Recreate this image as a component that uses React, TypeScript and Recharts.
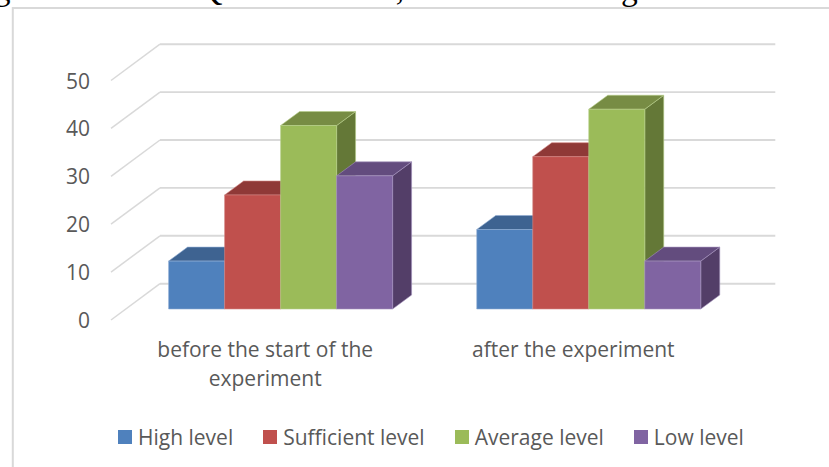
import React from "react";
import { BarChart, Bar, XAxis, YAxis, CartesianGrid, Legend } from "recharts";

// Survey results: share of respondents per level, before and after the experiment.
const categories = ["before the start of the experiment", "after the experiment"];
const categoryLines = [["before the start of the", "experiment"], ["after the experiment"]];
const highLevel = [10, 16.6];
const sufficientLevel = [23.8, 31.8];
const averageLevel = [38.3, 41.7];
const lowLevel = [27.8, 10];
const yTicks = [0, 10, 20, 30, 40, 50];

const seriesDefs = [
  { key: "high", name: "High level", values: highLevel, front: "#4F81BD", top: "#3E6391", side: "#385D8A", edge: "#8FADD3" },
  { key: "sufficient", name: "Sufficient level", values: sufficientLevel, front: "#C0504D", top: "#8F3937", side: "#7F302E", edge: "#D38785" },
  { key: "average", name: "Average level", values: averageLevel, front: "#9BBB59", top: "#778C44", side: "#647837", edge: "#B7CE8A" },
  { key: "low", name: "Low level", values: lowLevel, front: "#8064A2", top: "#634C7E", side: "#533E68", edge: "#A592BE" },
];

const rows = categories.map((name, i) => {
  const row: Record<string, string | number> = { name };
  seriesDefs.forEach((s) => {
    row[s.key] = s.values[i];
  });
  return row;
});

const FONT = "'Open Sans', sans-serif";
const TEXT = "#595959";
const GRID = "#D9D9D9";

// Box depth of the bars and of the floor/wall perspective.
const BAR_DX = 19;
const BAR_DY = 14;

const Box = (props: any) => {
  const { x, y, width, height, front, top, side, edge } = props;
  const r = x + width;
  const b = y + height;
  return (
    <g stroke={edge} strokeWidth={0.6} strokeLinejoin="round">
      <polygon fill={side} points={`${r},${y} ${r + BAR_DX},${y - BAR_DY} ${r + BAR_DX},${b - BAR_DY} ${r},${b}`} />
      <polygon fill={top} points={`${x},${y} ${x + BAR_DX},${y - BAR_DY} ${r + BAR_DX},${y - BAR_DY} ${r},${y}`} />
      <rect x={x} y={y} width={width} height={height} fill={front} />
    </g>
  );
};

// Each horizontal grid value becomes a back-wall line plus a diagonal floor edge.
const gridLine = (props: any) => {
  const { x1, x2, y1, key } = props;
  const backY = y1 - 25.3;
  const backLeft = x1 + 33.4;
  return (
    <g key={key} fill="none" stroke={GRID}>
      <line x1={backLeft} y1={backY} x2={x2 + 32.4} y2={backY} strokeWidth={1.9} />
      <line x1={x1 - 15.6} y1={y1 + 11} x2={backLeft} y2={backY} strokeWidth={1.5} />
    </g>
  );
};

const YTick = (props: any) => (
  <text x={90} y={props.y + 11} textAnchor="end" dominantBaseline="central" fontFamily={FONT} fontSize={21} fill={TEXT}>
    {props.payload.value}
  </text>
);

const XTick = (props: any) => {
  const lines = categoryLines[props.index] ?? [props.payload.value];
  return (
    <text textAnchor="middle" fontFamily={FONT} fontSize={21} fill={TEXT}>
      {lines.map((line: string, i: number) => (
        <tspan key={line} x={props.x - 15.5} y={357 + i * 29}>
          {line}
        </tspan>
      ))}
    </text>
  );
};

const LegendRow = ({ payload }: any) => (
  <div style={{ display: "flex", paddingLeft: 118, fontFamily: FONT, fontSize: 21, color: TEXT, lineHeight: "30px" }}>
    {(payload ?? []).map((item: any) => (
      <div key={item.value} style={{ display: "flex", alignItems: "center", marginRight: 30, whiteSpace: "nowrap" }}>
        <span style={{ width: 14, height: 14, background: item.color, marginRight: 6, display: "inline-block" }} />
        {item.value}
      </div>
    ))}
  </div>
);

export default function App() {
  return (
    <div style={{ position: "absolute", left: 0, top: 0, width: 829, height: 467, background: "#fff", overflow: "hidden" }}>
      <BarChart
        width={829}
        height={467}
        data={rows}
        margin={{ top: 69.5, right: 86.1, bottom: 98, left: 66.6 }}
        barSize={56}
        barGap={0}
      >
        {/* Sentence of the surrounding page running off the top edge, and the chart frame */}
        <text x={-62} y={0} fontFamily="'Liberation Serif', serif" fontSize={33.5} fill="#000" style={{ whiteSpace: "pre" }}>
          <tspan>using an Total Test </tspan>
          <tspan letterSpacing={0.75}>Questionnaire,</tspan>
          <tspan letterSpacing={-0.7}> and the following</tspan>
          <tspan> results were obtained</tspan>
        </text>
        <path d="M12.8 467 V8 H829" fill="none" stroke={GRID} strokeWidth={2} />
        <CartesianGrid vertical={false} horizontal={gridLine} />
        <XAxis dataKey="name" axisLine={false} tickLine={false} height={60} interval={0} tick={XTick} />
        <YAxis domain={[0, 50]} ticks={yTicks} axisLine={false} tickLine={false} width={60} tick={YTick} />
        <Legend
          layout="horizontal"
          align="center"
          verticalAlign="middle"
          itemSorter={null}
          wrapperStyle={{ left: 0, top: 422, width: 829 }}
          content={<LegendRow />}
        />
        {seriesDefs.map((s) => (
          <Bar
            key={s.key}
            dataKey={s.key}
            name={s.name}
            fill={s.front}
            isAnimationActive={false}
            shape={(p: any) => <Box {...p} front={s.front} top={s.top} side={s.side} edge={s.edge} />}
          />
        ))}
      </BarChart>
    </div>
  );
}
